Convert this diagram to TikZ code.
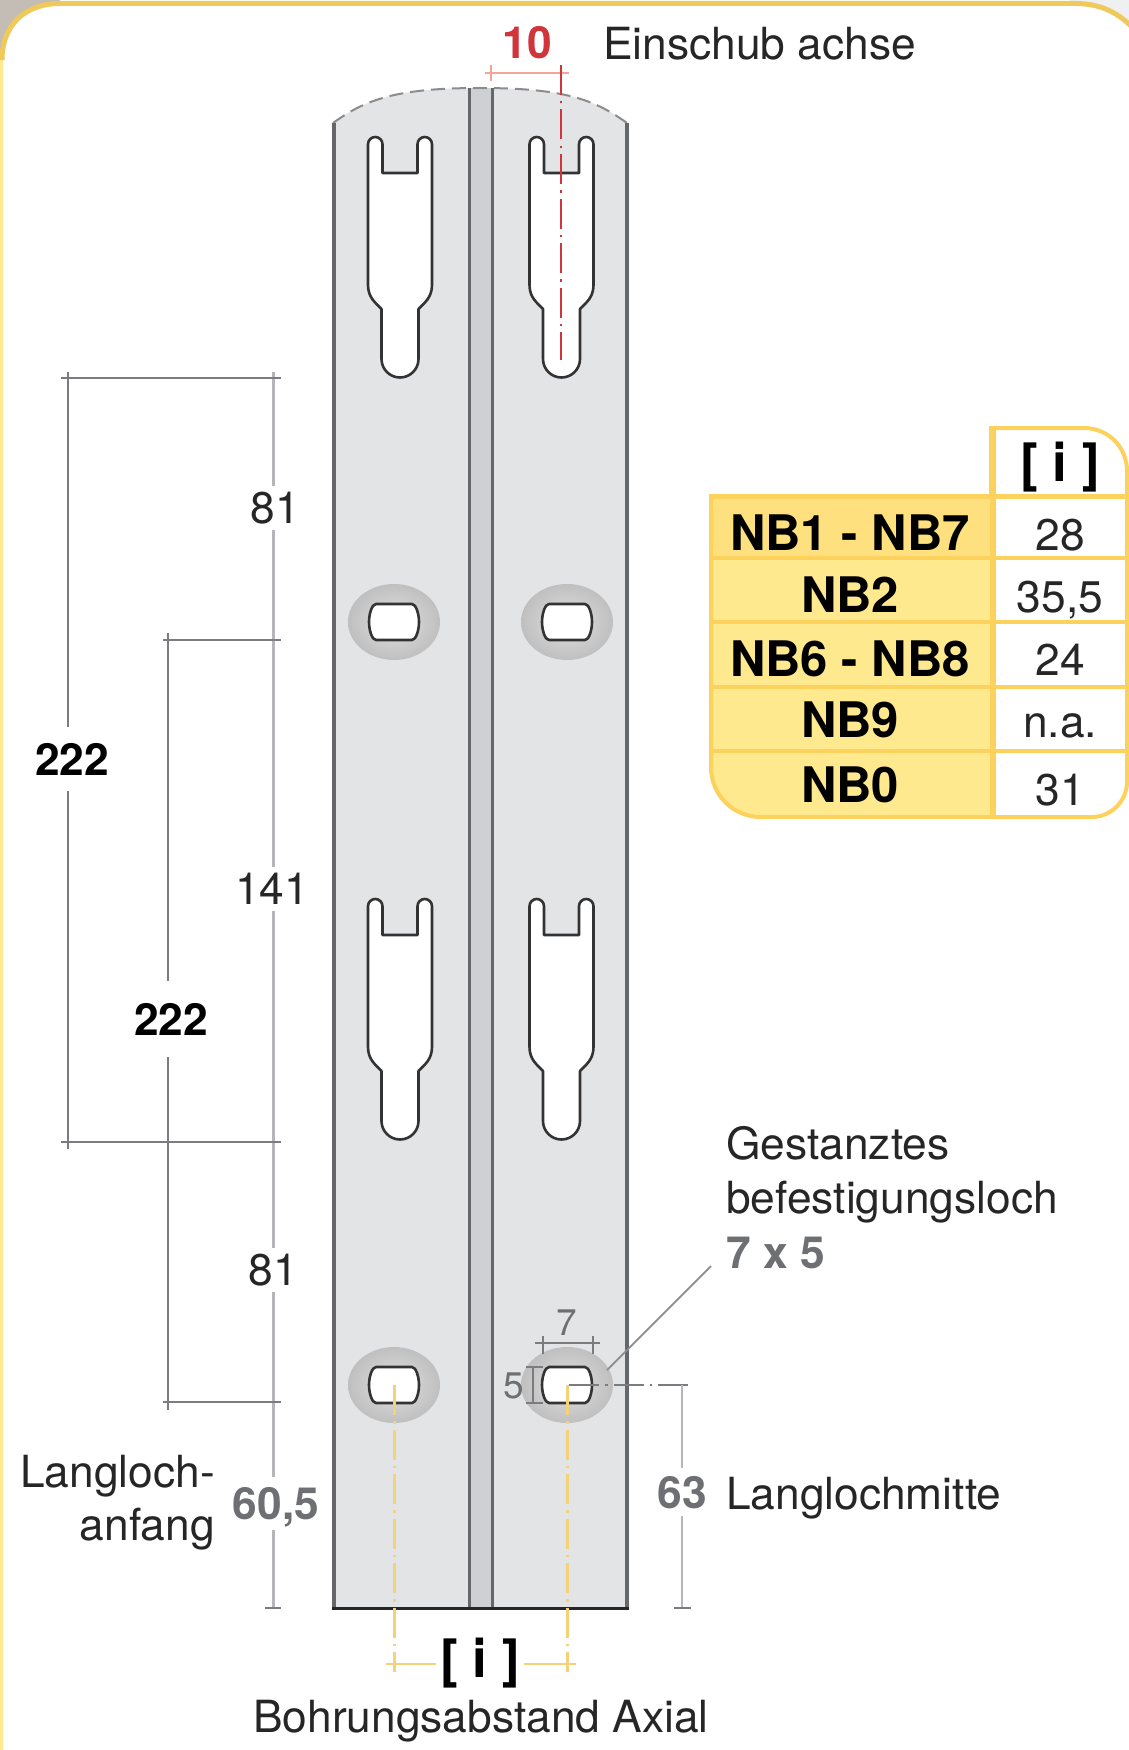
\documentclass[tikz,border=0pt]{standalone}
\usepackage{fontspec}
\setmainfont{TeX Gyre Heros}
\definecolor{framey}{HTML}{EFC95A}
\definecolor{framel}{HTML}{FFE98F}
\definecolor{taupe}{HTML}{C4BDB5}
\definecolor{pale}{HTML}{EEF0F1}
\definecolor{plate}{HTML}{E3E4E6}
\definecolor{channel}{HTML}{CFD0D3}
\definecolor{edge}{HTML}{66676A}
\definecolor{dimc}{HTML}{7B7C7F}
\definecolor{axisc}{HTML}{B4B6BA}
\definecolor{textg}{HTML}{6E6F72}
\definecolor{redc}{HTML}{D0353A}
\definecolor{pinkc}{HTML}{F3A596}
\definecolor{yelc}{HTML}{F3D27A}
\definecolor{tabl}{HTML}{FCD25C}
\definecolor{taba}{HTML}{FFE07E}
\definecolor{tabb}{HTML}{FFE98F}
\newcommand{\sizeA}{\fontsize{44.3}{50}\selectfont}
\newcommand{\sizeB}{\fontsize{49}{54}\selectfont\bfseries}
\newcommand{\sizeC}{\fontsize{53}{58}\selectfont\bfseries}
\newcommand{\sizeD}{\fontsize{37}{42}\selectfont}
\tikzset{
  txt/.style={inner sep=0pt,font=\sizeA,text=black!85},
  boldtxt/.style={inner sep=0pt,font=\sizeA\bfseries,text=black},
  graytxt/.style={inner sep=0pt,font=\sizeA\bfseries,text=textg},
  smalltxt/.style={inner sep=0pt,font=\sizeD,text=textg},
  dimline/.style={draw=dimc,line width=2pt},
  thinaxis/.style={draw=axisc,line width=3pt},
  slotline/.style={draw=black!80,line width=2.6pt,fill=white,line join=round},
  redaxis/.style={draw=redc,line width=2.2pt,dash pattern=on 30pt off 6pt on 2.5pt off 6pt},
  yelaxis/.style={draw=yelc,line width=3pt,dash pattern=on 30pt off 6pt on 2.5pt off 6pt},
  grayaxis/.style={draw=dimc,line width=2.4pt,dash pattern=on 30pt off 6pt on 2.5pt off 6pt},
  tabline/.style={draw=tabl,line width=4pt},
  tabhead/.style={inner sep=0pt,font=\sizeB,text=black},
  tabval/.style={inner sep=0pt,font=\sizeA,text=black!85},
}
\newcommand{\slotshape}[2]{%
  \draw[slotline,shift={(#1,#2)}]
    (-32,285) -- (-32,144.25)
    .. controls (-32,140.25) and (-28.75,137) .. (-24.75,137)
    .. controls (-20.75,137) and (-17.5,140.25) .. (-17.5,144.25)
    -- (-17.5,173) -- (17.5,173) -- (17.5,144.25)
    .. controls (17.5,140.25) and (20.75,137) .. (24.75,137)
    .. controls (28.75,137) and (32,140.25) .. (32,144.25) -- (32,285)
    .. controls (32,298) and (24,303) .. (18.5,309) -- (18.5,359)
    .. controls (18.5,369.2) and (10.2,377.5) .. (0,377.5)
    .. controls (-10.2,377.5) and (-18.5,369.2) .. (-18.5,359) -- (-18.5,309)
    .. controls (-24,303) and (-32,298) .. (-32,285) -- cycle;}
\newcommand{\ovalhole}[2]{%
  \shade[shift={(#1,#2)},inner color=black!12,outer color=black!25] (0,0) ellipse (46 and 38);
  \draw[slotline,shift={(#1,#2)}]
    (-18,-18) -- (18,-18) .. controls (22,-18) and (25,-8) .. (25,0)
    .. controls (25,8) and (22,18) .. (18,18) -- (-18,18)
    .. controls (-22,18) and (-25,8) .. (-25,0)
    .. controls (-25,-8) and (-22,-18) .. (-18,-18) -- cycle;}
\begin{document}
\begin{tikzpicture}[x=1pt,y=-1pt]
\useasboundingbox (0,0) rectangle (1129,1750);
\begin{scope}
\clip (0,0) rectangle (1129,1750);
\fill[white] (0,0) rectangle (1129,1750);
% frame corners and border
\fill[taupe] (0,0) -- (60,0) -- (60,3.5) .. controls (25,3.5) and (2,25) .. (2,60) -- (0,60) -- cycle;
\fill[pale] (1129,0) -- (1070,0) -- (1075,3.5) .. controls (1100,3.5) and (1118,14) .. (1129,25) -- cycle;
\draw[framel,line width=4pt] (1,1750) -- (1,60);
\draw[framey,line width=5pt] (2,60) .. controls (2,25) and (25,3.5) .. (60,3.5) -- (1075,3.5) .. controls (1100,3.5) and (1118,12) .. (1135,30);
\end{scope}

% plate
\fill[plate] (333,123) .. controls (365,100) and (395,88) .. (480,88)
  .. controls (565,88) and (595,100) .. (627,123) -- (627,1608) -- (333,1608) -- cycle;
\fill[channel] (470,88) rectangle (492,1608);
\draw[black!45,line width=2pt,dash pattern=on 14pt off 7pt]
  (333,123) .. controls (365,100) and (395,88) .. (480,88)
  .. controls (565,88) and (595,100) .. (627,123);
\draw[edge,line width=3.5pt] (334,123) -- (334,1608);
\draw[edge,line width=3.5pt] (627,123) -- (627,1608);
\draw[edge,line width=3.5pt] (469.5,88) -- (469.5,1608);
\draw[edge,line width=3.5pt] (492.5,88) -- (492.5,1608);
\draw[black!85,line width=3pt] (332,1608) -- (629,1608);

\slotshape{400}{0}
\slotshape{561.5}{0}
\slotshape{400}{762}
\slotshape{561.5}{762}
\ovalhole{394}{622}
\ovalhole{567}{622}
\ovalhole{394}{1385}
\ovalhole{567}{1385}

% named end points
\coordinate (axtop) at (273,372);
\coordinate (axbot) at (273,1608);
\coordinate (la) at (68,372);
\coordinate (lb) at (68,1149);
\coordinate (ma) at (168,633);
\coordinate (mb) at (168,1410);
\coordinate (ha1) at (61,378);  \coordinate (ha2) at (281,378);
\coordinate (hb1) at (163,640); \coordinate (hb2) at (281,640);
\coordinate (hc1) at (61,1142); \coordinate (hc2) at (281,1142);
\coordinate (hd1) at (163,1402);\coordinate (hd2) at (281,1402);
\coordinate (he1) at (265,1608);\coordinate (he2) at (281,1608);

% left dimension labels
\node[txt,outer ysep=6pt] (t81a) at (275,508) {81};
\node[txt,outer ysep=6pt,fill=none] (t141) at (272,889) {141};
\node[txt,outer ysep=6pt] (t81b) at (273,1270) {81};
\node[graytxt,anchor=base,minimum height=0pt] (t605) at (276,1519) {60,5};
\node[boldtxt,outer ysep=16pt] (t222a) at (72,759) {222};
\node[boldtxt,outer ysep=22pt] (t222b) at (171,1019) {222};

\draw[thinaxis] (axtop) -- (t81a.north -| axtop);
\draw[thinaxis] (t81a.south -| axtop) -- (t141.north -| axtop);
\draw[thinaxis] (t141.south -| axtop) -- (t81b.north -| axtop);
\draw[thinaxis] (t81b.south -| axtop) -- (273,1477);
\draw[thinaxis] (273,1530) -- (axbot);
\draw[dimline] (la) -- (t222a.north -| la);
\draw[dimline] (t222a.south -| la) -- (lb);
\draw[dimline] (ma) -- (t222b.north -| ma);
\draw[dimline] (t222b.south -| ma) -- (mb);
\draw[dimline] (ha1) -- (ha2);
\draw[dimline] (hb1) -- (hb2);
\draw[dimline] (hc1) -- (hc2);
\draw[dimline] (hd1) -- (hd2);
\draw[dimline] (he1) -- (he2);

\node[txt,anchor=base east] (tlang1) at (215,1487) {Langloch-};
\node[txt,anchor=base east] (tlang2) at (215,1540) {anfang};

% top red dimension
\node[inner sep=0pt,font=\sizeA\bfseries,text=redc,anchor=base] (t10) at (527,59) {10};
\node[txt,anchor=base west] (teins) at (603,60) {Einschub achse};
\coordinate (ra) at (561,65);
\coordinate (rb) at (561,360);
\coordinate (pa) at (485,73);
\coordinate (pb) at (569,73);
\coordinate (pc) at (491,65);
\coordinate (pd) at (491,81);
\draw[pinkc,line width=2.4pt] (pa) -- (pb);
\draw[pinkc,line width=2.4pt] (pc) -- (pd);
\draw[redaxis] (ra) -- (rb);

% bottom yellow dimension
\node[inner sep=0pt,font=\sizeC,text=black,outer xsep=4pt] (ti) at (480,1663) {[ i ]};
\node[txt,anchor=base] (tbohr) at (481,1732) {Bohrungsabstand Axial};
\coordinate (ya) at (394,1385);
\coordinate (yb) at (394,1672);
\coordinate (yc) at (567,1385);
\coordinate (yd) at (567,1672);
\coordinate (ye) at (386,1664);
\coordinate (yf) at (576,1664);
\draw[yelaxis] (ya) -- (yb);
\draw[yelaxis] (yc) -- (yd);
\draw[draw=yelc,line width=2pt] (ye) -- (ti.west |- ye);
\draw[draw=yelc,line width=2pt] (ti.east |- yf) -- (yf);

% right hole dimensions
\coordinate (ga) at (569,1385);
\coordinate (gb) at (691,1385);
\coordinate (gc) at (682,1385);
\coordinate (gd) at (682,1608);
\draw[grayaxis] (ga) -- (gb);
\node[graytxt,anchor=base,outer ysep=8pt] (t63) at (682,1508) {63};
\draw[thinaxis,line width=2pt] (gc) -- (t63.north -| gc);
\draw[thinaxis,line width=2pt] (t63.south -| gc) -- (gd);
\draw[thinaxis,draw=dimc,line width=2pt] (674,1608) -- (691,1608);
\node[txt,anchor=base west] (tmitte) at (726,1509) {Langlochmitte};

\node[smalltxt] (t7) at (567,1323) {7};
\node[smalltxt] (t5) at (514,1386) {5};
\coordinate (s1) at (535,1343); \coordinate (s2) at (600,1343);
\coordinate (s3) at (543,1336); \coordinate (s4) at (543,1354);
\coordinate (s5) at (593,1336); \coordinate (s6) at (593,1354);
\draw[dimc,line width=1.6pt] (s1) -- (s2);
\draw[dimc,line width=1.6pt] (s3) -- (s4);
\draw[dimc,line width=1.6pt] (s5) -- (s6);
\coordinate (u1) at (533,1367); \coordinate (u2) at (533,1403);
\coordinate (u3) at (526,1367); \coordinate (u4) at (543,1367);
\coordinate (u5) at (526,1403); \coordinate (u6) at (543,1403);
\draw[dimc,line width=1.6pt] (u1) -- (u2);
\draw[dimc,line width=1.6pt] (u3) -- (u4);
\draw[dimc,line width=1.6pt] (u5) -- (u6);

\node[txt,anchor=base west] (tg1) at (726,1159) {Gestanztes};
\node[txt,anchor=base west] (tg2) at (726,1213) {befestigungsloch};
\node[graytxt,anchor=base west] (tg3) at (726,1268) {7 x 5};
\coordinate (lead) at (607,1370);
\coordinate (leadb) at (711,1266);
\draw[black!45,line width=1.8pt] (lead) -- (leadb);

% table
\fill[tabb] (711,496) -- (993,496) -- (993,817) -- (761,817) .. controls (733,817) and (711,795) .. (711,767) -- cycle;
\fill[taba] (711,496) rectangle (993,558);
\draw[tabline] (991,817) -- (1092,817) .. controls (1111,817) and (1127,801) .. (1127,782)
  -- (1127,471) .. controls (1127,447) and (1108,428) .. (1084,428) -- (991,428) -- (991,496);
\draw[tabline] (761,817) -- (991,817);
\draw[tabline] (761,817) .. controls (733,817) and (711,795) .. (711,767) -- (711,494);
\draw[tabline,line width=6pt] (993,428) -- (993,817);
\draw[tabline,line width=5pt] (709,496) -- (1129,496);
\foreach \yy in {558,622,687,751}{
  \draw[tabline] (711,\yy) -- (1127,\yy);
}
\node[tabhead,font=\sizeC] (thi) at (1060,467) {[ i ]};
\node[tabhead,anchor=base] (c1) at (850,550) {NB1 - NB7};
\node[tabhead,anchor=base] (c2) at (850,612) {NB2};
\node[tabhead,anchor=base] (c3) at (850,676) {NB6 - NB8};
\node[tabhead,anchor=base] (c4) at (850,737) {NB9};
\node[tabhead,anchor=base] (c5) at (850,802) {NB0};
\node[tabval,anchor=base] (v1) at (1060,550) {28};
\node[tabval,anchor=base] (v2) at (1060,612) {35,5};
\node[tabval,anchor=base] (v3) at (1060,675) {24};
\node[tabval,anchor=base] (v4) at (1060,737) {n.a.};
\node[tabval,anchor=base] (v5) at (1060,805) {31};
\end{tikzpicture}
\end{document}
